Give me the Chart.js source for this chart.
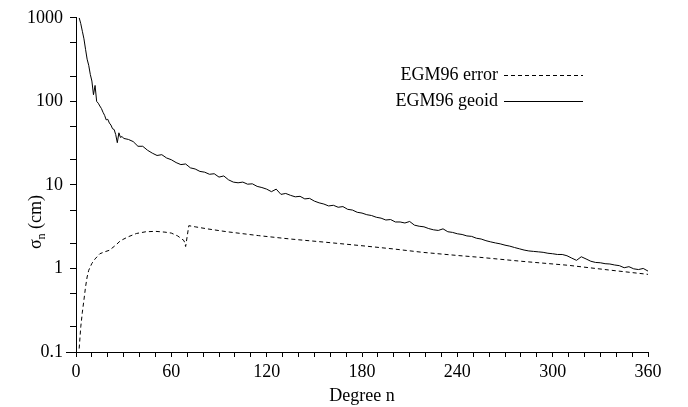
<!DOCTYPE html>
<html>
<head>
<meta charset="utf-8">
<script src="https://cdn.jsdelivr.net/npm/chart.js@4.4.1/dist/chart.umd.min.js"></script>
<style>
  html, body { margin: 0; padding: 0; background: #fff; }
  #wrap { width: 688px; height: 407px; }
</style>
</head>
<body>
<div id="wrap"><canvas id="chart" width="688" height="407"></canvas></div>
<script>
// degree n and sigma_n (cm)
const geoidDeg = [
    2, 3, 4, 5, 6, 7, 8, 9, 10, 11, 12, 13, 14, 15, 16, 17, 18, 19, 20, 21,
    22, 23, 24, 25, 26, 27, 28, 29, 30, 33, 36, 39, 42, 45, 48, 51, 54, 57, 60, 63,
    66, 69, 72, 75, 78, 81, 84, 87, 90, 93, 96, 99, 102, 105, 108, 111, 114, 117, 120, 123,
    126, 129, 132, 135, 138, 141, 144, 147, 150, 153, 156, 159, 162, 165, 168, 171, 174, 177, 180, 183,
    186, 189, 192, 195, 198, 201, 204, 207, 210, 213, 216, 219, 222, 225, 228, 231, 234, 237, 240, 243,
    246, 249, 252, 255, 258, 261, 264, 267, 270, 273, 276, 279, 282, 285, 288, 291, 294, 297, 300, 303,
    306, 309, 312, 315, 318, 321, 324, 327, 330, 333, 336, 339, 342, 345, 348, 351, 354, 357, 360
];
const geoidVal = [
    1000, 850, 690, 560, 420, 320, 270, 210, 175, 120, 155, 100, 95, 88, 82, 74, 68, 60, 61, 55,
    52, 47, 46, 40, 32, 42, 37, 38, 36, 35, 33, 29, 29, 26, 24, 22.5, 23, 21, 20, 18.5,
    17.5, 17.8, 16, 15.5, 14.5, 14.2, 13.4, 13.6, 12.4, 12.8, 11.5, 10.8, 10.6, 10.8, 10.2, 10.3, 9.6, 9.3, 8.9, 8.3,
    8.9, 7.7, 7.9, 7.5, 7.2, 7.3, 6.8, 6.9, 6.4, 6.1, 5.9, 5.6, 5.7, 5.4, 5.5, 5.1, 5.0, 4.7, 4.6, 4.4,
    4.3, 4.1, 4.0, 3.8, 3.85, 3.6, 3.6, 3.5, 3.65, 3.3, 3.2, 3.15, 3.0, 2.9, 2.85, 2.98, 2.75, 2.7, 2.6, 2.55,
    2.45, 2.42, 2.3, 2.25, 2.15, 2.08, 2.02, 1.97, 1.9, 1.85, 1.78, 1.72, 1.66, 1.62, 1.6, 1.58, 1.56, 1.52, 1.5, 1.47,
    1.47, 1.42, 1.33, 1.25, 1.38, 1.3, 1.22, 1.18, 1.17, 1.14, 1.13, 1.1, 1.08, 1.02, 1.05, 0.99, 0.97, 1.0, 0.93
];
const errorDeg = [2, 3, 4, 5, 6, 7, 8, 10, 12, 15, 18, 21, 25, 28, 33, 38, 44, 50, 56, 60,
    64, 68, 69, 71, 75, 83, 95, 115, 135, 157, 180, 200, 218, 240, 254, 280, 310, 335, 360];
const errorVal = [0.11, 0.2, 0.3, 0.42, 0.6, 0.79, 0.95, 1.15, 1.3, 1.5, 1.58, 1.65, 1.9, 2.15, 2.4, 2.62, 2.75, 2.78, 2.72, 2.65,
    2.45, 2.15, 1.83, 3.25, 3.15, 2.97, 2.75, 2.47, 2.25, 2.06, 1.87, 1.71, 1.56, 1.43, 1.36, 1.22, 1.09, 0.96, 0.85];

const yTickValues = [0.1, 0.2, 0.5, 1, 2, 5, 10, 20, 50, 100, 200, 500, 1000];
const yTickLabels = ['0.1', '', '', '1', '', '', '10', '', '', '100', '', '', '1000'];
const legendLabels = ['EGM96 error', 'EGM96 geoid'];

const FONT = '"Liberation Serif", "Times New Roman", serif';
Chart.defaults.font.family = FONT;
Chart.defaults.font.size = 18;
Chart.defaults.color = '#000';

const toPoints = (xs, ys) => xs.map((x, i) => ({x: x, y: ys[i]}));

// titles, legend and the small axis overhang
const decorations = {
    id: 'decorations',
    afterDraw(chart) {
        const ctx = chart.ctx;
        const area = chart.chartArea;
        ctx.save();
        ctx.strokeStyle = '#000';
        ctx.lineWidth = 1;
        ctx.beginPath();
        ctx.moveTo(area.left - 10, area.bottom + 0.5);
        ctx.lineTo(area.left, area.bottom + 0.5);
        ctx.stroke();

        ctx.fillStyle = '#000';
        ctx.font = '18px ' + FONT;
        ctx.textAlign = 'center';
        ctx.textBaseline = 'alphabetic';
        ctx.fillText('Degree n', (area.left + area.right) / 2, 401);

        // sigma_n (cm), rotated
        ctx.translate(41, 222);
        ctx.rotate(-Math.PI / 2);
        const sig = 'σ';
        const rest = ' (cm)';
        ctx.font = '18px ' + FONT;
        const wSig = ctx.measureText(sig).width;
        const wRest = ctx.measureText(rest).width;
        ctx.font = '12px ' + FONT;
        const wSub = ctx.measureText('n').width;
        let x0 = -(wSig + wSub + wRest) / 2;
        ctx.textAlign = 'left';
        ctx.font = '18px ' + FONT;
        ctx.fillText(sig, x0, 0);
        ctx.font = '12px ' + FONT;
        ctx.fillText('n', x0 + wSig, 4);
        ctx.font = '18px ' + FONT;
        ctx.fillText(rest, x0 + wSig + wSub, 0);
        ctx.restore();

        // legend
        ctx.save();
        ctx.font = '18px ' + FONT;
        ctx.fillStyle = '#000';
        ctx.strokeStyle = '#000';
        ctx.lineWidth = 1;
        ctx.textAlign = 'right';
        ctx.textBaseline = 'middle';
        const rows = [75, 101];
        legendLabels.forEach((label, i) => {
            ctx.fillText(label, 498, rows[i]);
            ctx.setLineDash(chart.data.datasets[i].borderDash || []);
            ctx.beginPath();
            ctx.moveTo(504, rows[i] + 0.5);
            ctx.lineTo(583, rows[i] + 0.5);
            ctx.stroke();
        });
        ctx.restore();
    }
};

new Chart(document.getElementById('chart'), {
    type: 'line',
    data: {
        datasets: [
            {
                label: legendLabels[0],
                data: toPoints(errorDeg, errorVal),
                borderColor: '#000',
                borderWidth: 1,
                borderDash: [4, 3],
                pointRadius: 0,
                tension: 0,
            },
            {
                label: legendLabels[1],
                data: toPoints(geoidDeg, geoidVal),
                borderColor: '#000',
                borderWidth: 1,
                pointRadius: 0,
                tension: 0,
            },
        ],
    },
    options: {
        responsive: false,
        animation: false,
        layout: {padding: {top: 17, right: 40, left: 0, bottom: 0}},
        plugins: {legend: {display: false}, tooltip: {enabled: false}},
        scales: {
            x: {
                type: 'linear',
                min: 0,
                max: 360,
                afterFit: (scale) => { scale.height = 55; },
                ticks: {
                    stepSize: 10,
                    autoSkip: false,
                    maxRotation: 0,
                    padding: 4,
                    callback: (v) => (v % 60 === 0 ? String(v) : ''),
                },
                grid: {drawOnChartArea: false, drawTicks: true, tickLength: 5, color: '#000'},
                border: {display: true, color: '#000', width: 1},
            },
            y: {
                type: 'logarithmic',
                min: 0.1,
                max: 1000,
                afterFit: (scale) => { scale.width = 76; },
                afterBuildTicks: (scale) => {
                    scale.ticks = yTickValues.map((v) => ({value: v}));
                },
                ticks: {
                    autoSkip: false,
                    padding: 7,
                    callback: (v) => {
                        const i = yTickValues.indexOf(v);
                        return i >= 0 ? yTickLabels[i] : '';
                    },
                },
                grid: {drawOnChartArea: false, drawTicks: true, tickLength: 6, color: '#000'},
                border: {display: true, color: '#000', width: 1},
            },
        },
    },
    plugins: [decorations],
});
</script>
</body>
</html>
